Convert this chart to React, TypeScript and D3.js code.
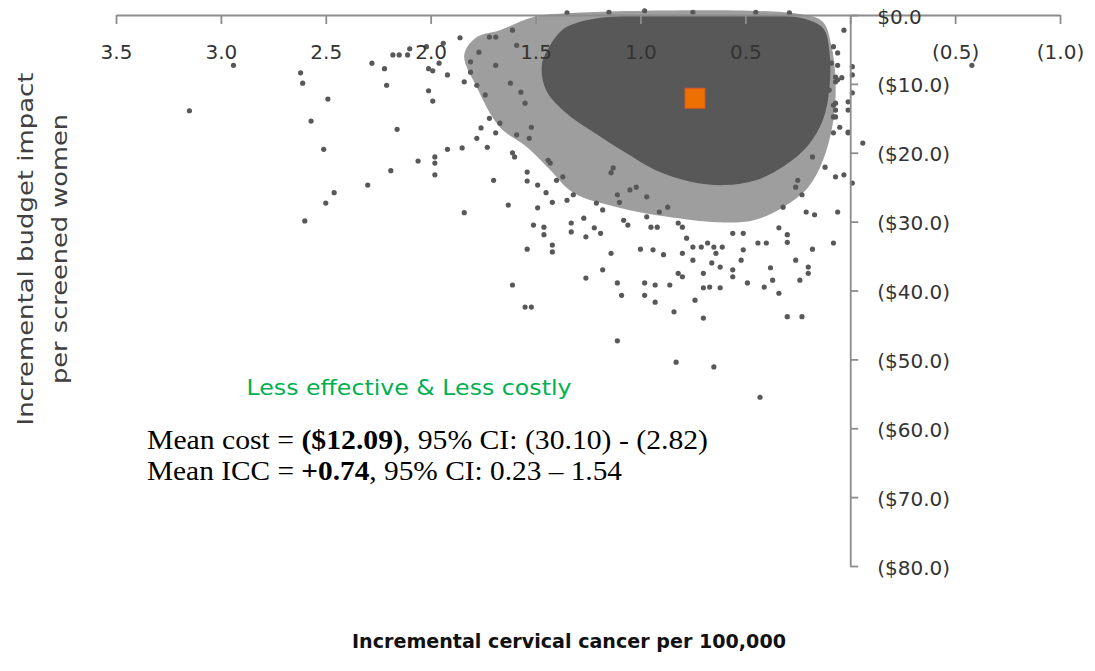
import { useEffect, useRef } from "react";
import * as d3 from "d3";

type Pt = [number, number];

// x: incremental cervical cancer per 100,000 (axis runs from 3.5 down to -1.0)
const xTicks = [3.5, 3.0, 2.5, 2.0, 1.5, 1.0, 0.5, 0, -0.5, -1.0];
// y: incremental budget impact per screened woman ($)
const yTicks = [0, -10, -20, -30, -40, -50, -60, -70, -80];

// mean of the simulations (orange square)
const meanPoint: Pt = [0.74, -12.09];

// outline of the area where the draws overlap into a solid cloud
const denseCore: Pt[] = [
  [1.43, -4.4], [1.36, -1.9], [1.19, -0.4], [0.86, -0.15], [0.52, -0.15],
  [0.24, -0.4], [0.13, -1.9], [0.1, -5.1], [0.1, -10.9], [0.13, -15.2],
  [0.2, -18.9], [0.31, -21.8], [0.45, -24.0], [0.6, -24.7], [0.76, -24.2],
  [0.93, -22.5], [1.07, -20.0], [1.22, -17.1], [1.36, -14.1], [1.45, -10.9],
  [1.47, -7.3],
];

// outline of the half-dense band around it
const denseFringe: Pt[] = [
  [1.78, -3.2], [1.67, -2.2], [1.51, -0.3], [1.33, 0.3], [0.24, 0.15],
  [0.13, -1.0], [0.09, -4.4], [0.07, -9.4], [0.08, -15.2], [0.13, -21.1],
  [0.2, -25.0], [0.32, -27.9], [0.46, -29.8], [0.63, -30.1], [0.87, -29.3],
  [1.11, -27.9], [1.32, -25.8], [1.43, -22.5], [1.54, -19.2], [1.67, -16.3],
  [1.78, -10.5], [1.84, -5.8],
];

// single draws that can be told apart
const sparseDraws: Pt[] = [
  [3.15, -13.9], [2.94, -7.3], [2.62, -8.4], [2.61, -9.9], [2.49, -12.2],
  [2.57, -15.4], [2.51, -19.5], [2.46, -25.8], [2.5, -27.3], [2.6, -29.9],
  [2.28, -7.0], [2.22, -7.8], [2.21, -10.2], [2.16, -16.6], [2.3, -24.7],
  [2.19, -22.6], [2.06, -21.2], [1.98, -20.6], [1.98, -21.5], [1.98, -23.2],
  [1.92, -19.5], [2.18, -5.8], [2.15, -5.8], [2.11, -5.8], [2.1, -4.9],
  [2.01, -11.0], [1.99, -12.5], [2.01, -7.8], [1.99, -8.1], [1.96, -7.0],
  [1.92, -8.7], [1.94, -4.1], [2.02, -4.6],
  [1.86, -3.3], [1.85, -19.3], [1.84, -9.7], [1.84, -28.7], [1.81, -6.8],
  [1.81, -8.3], [1.78, -10.2], [1.77, -5.4], [1.76, -16.4], [1.78, -17.9],
  [1.74, -11.6], [1.73, -19.2], [1.72, -15.0], [1.7, -24.0], [1.72, -3.2],
  [1.69, -3.2], [1.69, -17.1], [1.69, -7.3], [1.67, -15.7], [1.63, -27.6],
  [1.62, -9.9], [1.61, -2.2], [1.61, -20.0], [1.6, -20.6], [1.59, -17.4],
  [1.61, -39.2], [1.59, -4.4], [1.57, -11.2], [1.55, -12.8], [1.54, -22.8],
  [1.54, -24.1], [1.54, -34.0], [1.55, -42.4], [1.52, -42.4], [1.53, -17.9],
  [1.52, -16.3], [1.49, -24.7], [1.51, -30.5], [1.46, -30.8], [1.46, -31.9],
  [1.49, -28.0], [1.44, -21.1], [1.43, -21.5], [1.45, -25.8], [1.42, -27.2],
  [1.42, -33.4], [1.42, -34.4], [1.4, -24.0], [1.37, -23.5], [1.35, -26.9],
  [1.32, -26.1], [1.33, -30.2], [1.33, -31.5], [1.26, -38.2], [1.27, -29.5],
  [1.26, -32.2], [1.22, -30.9], [1.19, -31.7], [1.21, -27.3], [1.18, -28.3],
  [1.18, -37.0], [1.14, -34.6], [1.14, -22.9], [1.13, -22.2], [1.11, -38.9],
  [1.11, -26.1], [1.1, -27.2], [1.09, -40.7], [1.08, -29.8], [1.06, -30.5],
  [1.05, -25.4], [1.02, -25.0], [1.0, -34.0], [0.97, -26.4], [0.97, -29.3],
  [0.98, -38.9], [0.93, -39.2], [0.93, -41.7], [0.95, -30.8], [0.92, -30.8],
  [0.91, -28.6], [0.87, -27.9], [0.94, -34.1], [0.89, -34.8], [0.86, -39.2],
  [0.84, -43.1], [0.82, -30.2], [0.8, -30.8], [0.82, -37.5], [0.8, -38.0],
  [0.78, -32.4], [0.75, -35.6], [0.74, -41.4], [0.75, -33.7], [0.71, -33.7],
  [0.68, -33.1], [0.7, -44.0], [0.7, -37.5], [0.7, -39.6], [0.67, -39.5],
  [0.62, -39.6], [0.66, -36.0], [0.62, -36.6], [0.65, -33.7], [0.61, -33.7],
  [0.56, -37.0], [0.56, -38.0], [0.52, -35.6], [0.51, -34.1], [0.49, -38.9],
  [0.56, -31.7], [0.51, -31.7], [0.44, -33.1], [0.4, -33.1], [0.41, -39.5],
  [0.37, -38.5], [0.38, -36.7], [0.34, -40.4], [0.34, -30.9], [0.3, -31.9],
  [0.3, -33.0], [0.26, -35.6], [0.3, -43.8], [0.23, -43.8], [0.24, -38.5],
  [0.2, -36.6], [0.2, -37.5], [0.18, -34.0], [0.17, -29.0], [0.21, -28.6],
  [0.23, -26.1], [0.08, -33.1], [0.06, -28.6], [0.03, -23.2], [0.07, -23.5],
  [0.12, -22.1], [0.18, -20.6], [0.08, -17.1], [0.05, -16.3], [0.08, -14.8],
  [0.08, -13.1], [0.1, -10.9], [0.07, -9.7], [0.04, -9.1], [0.13, -7.5],
  [0.09, -7.0], [0.08, -4.6], [0.06, -5.5], [0.03, -2.2], [-0.01, -7.5],
  [-0.01, -8.7], [0.01, -17.1], [-0.01, -24.4], [0.26, -25.0], [0.25, -24.0],
  [0.32, -27.9],
  [0.06, -7.3], [0.07, -9.0], [0.06, -9.4], [-0.01, -11.3], [0.01, -12.6],
  [0.01, -13.8], [0.07, -12.8], [0.07, -13.8], [0.07, -14.8], [0.01, -17.0],
  [-0.06, -18.6], [-0.58, -7.3],
  [1.11, -47.3], [0.98, -40.7], [0.83, -50.4], [0.8, -34.6], [0.65, -51.1],
  [0.64, -34.6], [0.43, -55.5],
  [1.35, 0.3], [1.15, 0.4], [0.98, 0.6], [0.75, 0.4], [0.45, 0.4], [0.29, 0.3],
];

const axisGrey = "#8c8c8c";
const dotGrey = "#585858";

function fmtX(v: number) {
  if (v === 0) return "";
  return v > 0 ? v.toFixed(1) : `(${Math.abs(v).toFixed(1)})`;
}

function fmtY(v: number) {
  if (v === 0) return "$0.0";
  return `($${Math.abs(v).toFixed(1)})`;
}

function drawChart(el: SVGSVGElement) {
  const w = 1095;
  const h = 671;

  const svg = d3.select(el);
  svg.selectAll("*").remove();
  svg.attr("width", w).attr("height", h);
  svg.append("rect").attr("width", w).attr("height", h).attr("fill", "white");

  const xScale = d3.scaleLinear().domain([3.5, -1.0]).range([116, 1060]);
  const yScale = d3.scaleLinear().domain([0, -80]).range([15, 566]);

  const outline = d3
    .line<Pt>()
    .x((d) => xScale(d[0]))
    .y((d) => yScale(d[1]))
    .curve(d3.curveCatmullRomClosed.alpha(0.5));

  svg
    .append("path")
    .datum(denseFringe)
    .attr("d", outline)
    .attr("fill", dotGrey)
    .attr("opacity", 0.58);

  svg.append("path").datum(denseCore).attr("d", outline).attr("fill", dotGrey);

  svg
    .append("g")
    .selectAll("circle")
    .data(sparseDraws)
    .join("circle")
    .attr("cx", (d) => xScale(d[0]))
    .attr("cy", (d) => yScale(d[1]))
    .attr("r", 2.6)
    .attr("fill", dotGrey);

  // mean marker
  svg
    .append("rect")
    .attr("x", xScale(meanPoint[0]) - 10)
    .attr("y", yScale(meanPoint[1]) - 10)
    .attr("width", 20)
    .attr("height", 20)
    .attr("fill", "#ed7000")
    .attr("stroke", "#d5582a")
    .attr("stroke-width", 1);

  // x axis along $0
  const gx = svg
    .append("g")
    .attr("transform", `translate(0,${yScale(0)})`)
    .call(
      d3
        .axisBottom(xScale)
        .tickValues(xTicks)
        .tickSize(9)
        .tickSizeOuter(0)
        .tickPadding(21)
        .tickFormat((d) => fmtX(+d))
    );

  // y axis at zero
  const gy = svg
    .append("g")
    .attr("transform", `translate(${xScale(0)},0)`)
    .call(
      d3
        .axisRight(yScale)
        .tickValues(yTicks)
        .tickSize(8)
        .tickSizeOuter(0)
        .tickPadding(19)
        .tickFormat((d) => fmtY(+d))
    );

  [gx, gy].forEach((g) => {
    g.attr("font-family", "'DejaVu Sans', sans-serif").attr("font-size", 20);
    g.select(".domain").attr("stroke", axisGrey).attr("stroke-width", 1.8);
    g.selectAll(".tick line").attr("stroke", axisGrey).attr("stroke-width", 1.8);
    g.selectAll(".tick text").attr("fill", "#333");
  });
  gy.selectAll(".tick text").attr("dy", "0.4em");

  // axis titles
  const yTitle = ["Incremental budget impact", "per screened women"];
  const yTitleX = [33, 67];
  const yTitleLen = [353, 270];
  yTitle.forEach((t, i) => {
    svg
      .append("text")
      .attr("transform", `translate(${yTitleX[i]},249) rotate(-90)`)
      .attr("text-anchor", "middle")
      .attr("font-family", "'DejaVu Sans', sans-serif")
      .attr("font-size", 22)
      .attr("fill", "#404040")
      .attr("textLength", yTitleLen[i])
      .attr("lengthAdjust", "spacingAndGlyphs")
      .text(t);
  });

  svg
    .append("text")
    .attr("x", 569)
    .attr("y", 648)
    .attr("text-anchor", "middle")
    .attr("font-family", "'DejaVu Sans', sans-serif")
    .attr("font-weight", "bold")
    .attr("font-size", 19)
    .attr("fill", "#111")
    .attr("textLength", 434)
    .attr("lengthAdjust", "spacingAndGlyphs")
    .text("Incremental cervical cancer per 100,000");

  // quadrant label
  svg
    .append("text")
    .attr("x", 409)
    .attr("y", 395)
    .attr("text-anchor", "middle")
    .attr("font-family", "'DejaVu Sans', sans-serif")
    .attr("font-size", 22)
    .attr("fill", "#00b050")
    .attr("textLength", 325)
    .attr("lengthAdjust", "spacingAndGlyphs")
    .text("Less effective & Less costly");

  // summary lines
  const lines = [
    { y: 449, len: 561, parts: ["Mean cost = ", "($12.09)", ", 95% CI: (30.10) - (2.82)"] },
    { y: 480, len: 475, parts: ["Mean ICC = ", "+0.74", ", 95% CI: 0.23 \u2013 1.54"] },
  ];
  lines.forEach((l) => {
    const t = svg
      .append("text")
      .attr("x", 147)
      .attr("y", l.y)
      .attr("font-family", "'Liberation Serif', 'Times New Roman', serif")
      .attr("font-size", 28)
      .attr("fill", "#000")
      .attr("textLength", l.len)
      .attr("lengthAdjust", "spacingAndGlyphs");
    l.parts.forEach((p, i) => {
      t.append("tspan")
        .attr("font-weight", i === 1 ? "bold" : "normal")
        .text(p);
    });
  });
}

export default function App() {
  const ref = useRef<SVGSVGElement>(null);

  useEffect(() => {
    if (ref.current) drawChart(ref.current);
  }, []);

  return (
    <div>
      <svg ref={ref} style={{ position: "absolute", left: 0, top: 0 }} />
    </div>
  );
}
